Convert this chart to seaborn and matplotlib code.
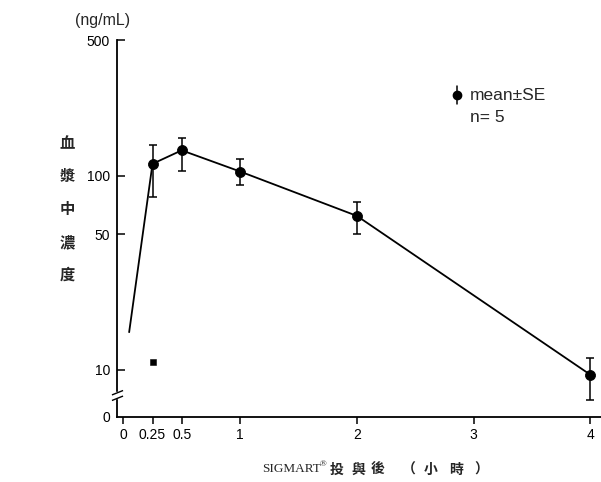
import numpy as np
import pandas as pd
import matplotlib
matplotlib.use("Agg")
import matplotlib.pyplot as plt
import seaborn as sns
from matplotlib.lines import Line2D
from matplotlib.path import Path
from matplotlib.ticker import NullLocator, FixedLocator, FixedFormatter

# ---- data ----
time_h = [0.25, 0.5, 1, 2, 4]
conc_mean = [115, 135, 105, 62, 9.4]
se_upper = [144, 157, 122, 73, 11.5]
se_lower = [78, 106, 89, 50, 7.0]
line_start_time = [0.05]
line_start_conc = [15.6]
stray_time = [0.25]
stray_conc = [11.0]

x_ticks = [0, 0.25, 0.5, 1, 2, 3, 4]
x_tick_labels = ['0', '0.25', '0.5', '1', '2', '3', '4']
y_ticks = [10, 50, 100, 500]
y_tick_labels = ['10', '50', '100', '500']
y_floor = 5.7          # broken-axis position labelled "0"
y_break = 7.4
y_label_chars = ['血', '漿', '中', '濃', '度']
x_label_brand = 'SIGMART'
x_label_chars = ['投', '與', '後', '（', '小', '時', '）']

sns.set_style("ticks")
plt.rcParams['font.family'] = ['Liberation Sans', 'Noto Sans CJK TC', 'DejaVu Sans']

W, H = 601, 482
fig = plt.figure(figsize=(W / 100, H / 100), dpi=100)
ax = fig.add_axes([117 / W, 65 / H, 1 - 117 / W, (417 - 40) / H])
ax.set_yscale('log')
ax.set_xlim(-0.054, 4.09)
ax.set_ylim(y_floor, 500)

df = pd.DataFrame({'time': line_start_time + time_h,
                   'conc': line_start_conc + conc_mean})
sns.lineplot(data=df, x='time', y='conc', ax=ax, color='black', lw=1.3,
             sort=False, legend=False)
m = np.array(conc_mean)
yerr = [m - np.array(se_lower), np.array(se_upper) - m]
ax.errorbar(time_h, conc_mean, yerr=yerr, fmt='none', ecolor='black',
            elinewidth=1.1, capsize=3.2, capthick=1.1, zorder=4)
sns.scatterplot(x=time_h, y=conc_mean, ax=ax, color='black', s=52,
                edgecolor='black', zorder=5, legend=False)
sns.scatterplot(x=stray_time, y=stray_conc, ax=ax, color='black', s=22,
                marker='s', edgecolor='black', legend=False)

ax.set_xlabel('')
ax.set_ylabel('')
for s in ['top', 'right']:
    ax.spines[s].set_visible(False)
for s in ['left', 'bottom']:
    ax.spines[s].set_linewidth(1.3)
    ax.spines[s].set_color('black')

ax.xaxis.set_major_locator(FixedLocator(x_ticks))
ax.xaxis.set_major_formatter(FixedFormatter(x_tick_labels))
ax.yaxis.set_major_locator(FixedLocator([y_floor] + y_ticks))
ax.yaxis.set_major_formatter(FixedFormatter(['0'] + y_tick_labels))
ax.yaxis.set_minor_locator(NullLocator())
ax.xaxis.set_minor_locator(NullLocator())
ax.tick_params(axis='y', direction='in', length=6, width=1.1, pad=5,
               labelsize=10, colors='black')
ax.tick_params(axis='x', direction='out', length=5, width=1.1, pad=3,
               labelsize=10, colors='black')
ax.yaxis.get_major_ticks()[0].tick1line.set_visible(False)

# axis break mark
tr = ax.get_yaxis_transform()
ax.plot([0], [y_break], transform=tr, marker='s', ms=5, color='white',
        mec='white', clip_on=False, zorder=6)
brk = Path([(-1, -0.9), (1, -0.1), (-1, 0.1), (1, 0.9)],
           [Path.MOVETO, Path.LINETO, Path.MOVETO, Path.LINETO])
ax.plot([0], [y_break], transform=tr, marker=brk, ms=8, color='black',
        mew=1.0, fillstyle='none', clip_on=False, zorder=7)

# unit label
fig.text(75 / W, 1 - 20 / H, '(ng/mL)', fontsize=11.5, ha='left', va='center')

# vertical CJK label
for i, ch in enumerate(y_label_chars):
    fig.text(67 / W, 1 - (143 + i * 33) / H, ch, fontsize=11,
             family='Noto Sans CJK TC', fontweight='bold',
             ha='center', va='center')

# x label
fig.text(262 / W, 1 - 469 / H, x_label_brand, fontsize=9.5,
         family='Liberation Serif', ha='left', va='center')
fig.text(320 / W, 1 - 464 / H, '®', fontsize=6.5,
         family='Liberation Serif', ha='left', va='center')
x_char_pos = [337, 358, 378, 409, 431, 456, 481]
for ch, xp in zip(x_label_chars, x_char_pos):
    fig.text(xp / W, 1 - 470 / H, ch, fontsize=10,
             family='Noto Sans CJK TC', fontweight='bold',
             ha='center', va='center')

# legend
fig.add_artist(Line2D([457 / W, 457 / W], [1 - 86 / H, 1 - 104 / H],
                      color='black', lw=1.1))
fig.add_artist(Line2D([457 / W], [1 - 95 / H], marker='o', ms=6,
                      color='black'))
fig.text(470 / W, 1 - 95 / H, 'mean±SE', fontsize=12.5, ha='left', va='center')
fig.text(470 / W, 1 - 118 / H, 'n= 5', fontsize=12.5, ha='left', va='center')

fig.savefig('out.png', dpi=100)
